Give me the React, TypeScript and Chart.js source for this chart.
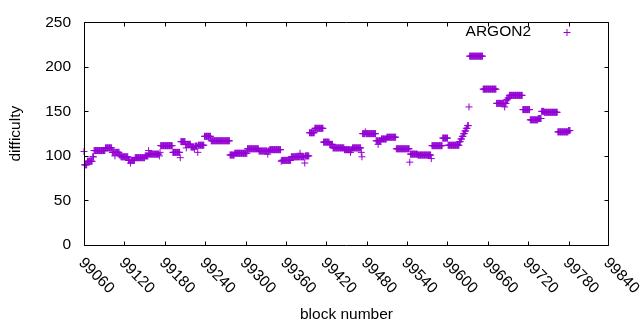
import React, { useEffect, useRef } from 'react';
import { Chart, registerables } from 'chart.js';

Chart.register(...registerables);

// Difficulty per block, stored as runs: each run starts at a block and keeps its value until the next run start.
const runStarts = [
  99060, 99061, 99065, 99073, 99075, 99092, 99102, 99106, 99107, 99113,
  99115, 99126, 99129, 99130, 99136, 99151, 99156, 99157, 99172, 99173,
  99174, 99192, 99203, 99204, 99211, 99212, 99213, 99219, 99224, 99225,
  99229, 99230, 99239, 99249, 99277, 99284, 99303, 99320, 99333, 99334,
  99336, 99353, 99354, 99368, 99381, 99382, 99388, 99389, 99395, 99403,
  99416, 99425, 99430, 99447, 99456, 99457, 99459, 99472, 99473, 99474,
  99478, 99479, 99494, 99497, 99498, 99502, 99510, 99524, 99544, 99545,
  99556, 99576, 99577, 99593, 99601, 99618, 99620, 99622, 99624, 99626,
  99628, 99630, 99632, 99633, 99653, 99673, 99685, 99686, 99688, 99690,
  99692, 99712, 99723, 99735, 99740, 99744, 99764, 99780,
];
const runValues = [
  105, 90, 94, 99, 106, 109, 104, 100, 104, 101,
  99, 95, 92, 95, 98, 100, 106, 102, 100, 104,
  111.5, 104, 98, 116, 113, 109, 113, 110, 108, 111,
  104, 112, 122, 117, 101, 103, 108, 105.5, 102, 105.5,
  107, 94, 95, 99, 103, 99, 92, 100, 126, 131,
  115.5, 113, 109, 107, 104, 107, 109, 104, 99, 125,
  127, 125, 117, 113, 117, 119, 121, 108, 93, 102,
  101, 97, 111.5, 120, 112, 116, 119, 122, 125, 128,
  131, 134, 155, 212, 175, 159, 155, 159, 163, 165,
  168, 152, 140.5, 142, 150, 149, 127, 128.5,
];
const lastBlock = 99782;

const xTickValues = [
  99060, 99120, 99180, 99240, 99300, 99360, 99420,
  99480, 99540, 99600, 99660, 99720, 99780, 99840,
];
const yTickValues = [0, 50, 100, 150, 200, 250];
const seriesName = 'ARGON2';
const xTitle = 'block number';
const yTitle = 'difficulty';

const COLOR = '#9400d3';
const FONT = '"Liberation Sans", Arial, sans-serif';
const FONT_SIZE = 15.5;

function buildPoints() {
  const pts: { x: number; y: number }[] = [];
  for (let i = 0; i < runStarts.length; i++) {
    const end = i + 1 < runStarts.length ? runStarts[i + 1] : lastBlock + 1;
    for (let b = runStarts[i]; b < end; b++) pts.push({ x: b, y: runValues[i] });
  }
  return pts;
}

const framePlugin = {
  id: 'gnuframe',
  afterDraw(chart: any) {
    const { ctx, chartArea: a, scales } = chart;
    const xs = scales.x;
    const ys = scales.y;
    const L = Math.round(a.left) + 0.5;
    const R = Math.round(a.right) - 0.5;
    const T = Math.round(a.top) + 0.5;
    const B = Math.round(a.bottom) + 0.5;
    const tl = 4;
    ctx.save();
    ctx.strokeStyle = '#000';
    ctx.lineWidth = 1;
    ctx.beginPath();
    ctx.rect(L, T, R - L, B - T);
    for (const v of xTickValues) {
      const px = Math.round(xs.getPixelForValue(v)) + 0.5;
      const p = Math.min(Math.max(px, L), R);
      ctx.moveTo(p, B);
      ctx.lineTo(p, B - tl);
      ctx.moveTo(p, T);
      ctx.lineTo(p, T + tl);
    }
    for (const v of yTickValues) {
      const py = Math.round(ys.getPixelForValue(v)) + 0.5;
      const p = Math.min(Math.max(py, T), B);
      ctx.moveTo(L, p);
      ctx.lineTo(L + tl, p);
      ctx.moveTo(R, p);
      ctx.lineTo(R - tl, p);
    }
    ctx.stroke();

    ctx.fillStyle = '#000';
    ctx.font = `${FONT_SIZE}px ${FONT}`;
    // rotated x tick labels
    ctx.textAlign = 'left';
    ctx.textBaseline = 'alphabetic';
    for (const v of xTickValues) {
      const px = xs.getPixelForValue(v);
      ctx.save();
      ctx.translate(px - 6, B + 18);
      ctx.rotate(Math.PI / 4);
      ctx.fillText(String(v), 0, 0);
      ctx.restore();
    }
    // axis titles
    ctx.textAlign = 'center';
    ctx.textBaseline = 'middle';
    ctx.fillText(xTitle, (a.left + a.right) / 2, 315);
    ctx.save();
    ctx.translate(16, (a.top + a.bottom) / 2);
    ctx.rotate(-Math.PI / 2);
    ctx.fillText(yTitle, 0, 0);
    ctx.restore();
    // legend
    ctx.textAlign = 'right';
    ctx.fillText(seriesName, 531, 32);
    ctx.strokeStyle = COLOR;
    ctx.beginPath();
    ctx.moveTo(563.5, 32.5);
    ctx.lineTo(570.5, 32.5);
    ctx.moveTo(567, 29);
    ctx.lineTo(567, 36);
    ctx.stroke();
    ctx.restore();
  },
};

export default function App() {
  const ref = useRef<HTMLCanvasElement | null>(null);
  useEffect(() => {
    document.body.style.margin = '0';
    const canvas = ref.current;
    if (!canvas) return;
    const chart = new Chart(canvas, {
      type: 'scatter',
      data: {
        datasets: [
          {
            label: seriesName,
            data: buildPoints(),
            pointStyle: 'cross',
            radius: 3.5,
            borderWidth: 1,
            borderColor: COLOR,
            backgroundColor: COLOR,
            clip: false as any,
          },
        ],
      },
      options: {
        responsive: false,
        animation: false,
        devicePixelRatio: 1,
        layout: { padding: { top: 19, right: 31, left: 0, bottom: 0 } },
        plugins: { legend: { display: false }, tooltip: { enabled: false }, title: { display: false } },
        events: [],
        scales: {
          x: {
            type: 'linear',
            min: 99060,
            max: 99840,
            grid: { display: false, drawTicks: false },
            border: { display: false },
            ticks: { display: false },
            afterFit(s: any) {
              s.height = 85;
            },
          },
          y: {
            type: 'linear',
            min: 0,
            max: 250,
            grid: { display: false, drawTicks: false },
            border: { display: false },
            ticks: {
              stepSize: 50,
              color: '#000',
              padding: 13,
              font: { family: FONT, size: FONT_SIZE },
            },
            afterFit(s: any) {
              s.width = 84;
            },
          },
        },
      },
      plugins: [framePlugin],
    });
    return () => chart.destroy();
  }, []);
  return (
    <div style={{ position: 'fixed', left: 0, top: 0, width: 640, height: 330, background: '#fff' }}>
      <canvas ref={ref} width={640} height={330} style={{ width: 640, height: 330 }} />
    </div>
  );
}
